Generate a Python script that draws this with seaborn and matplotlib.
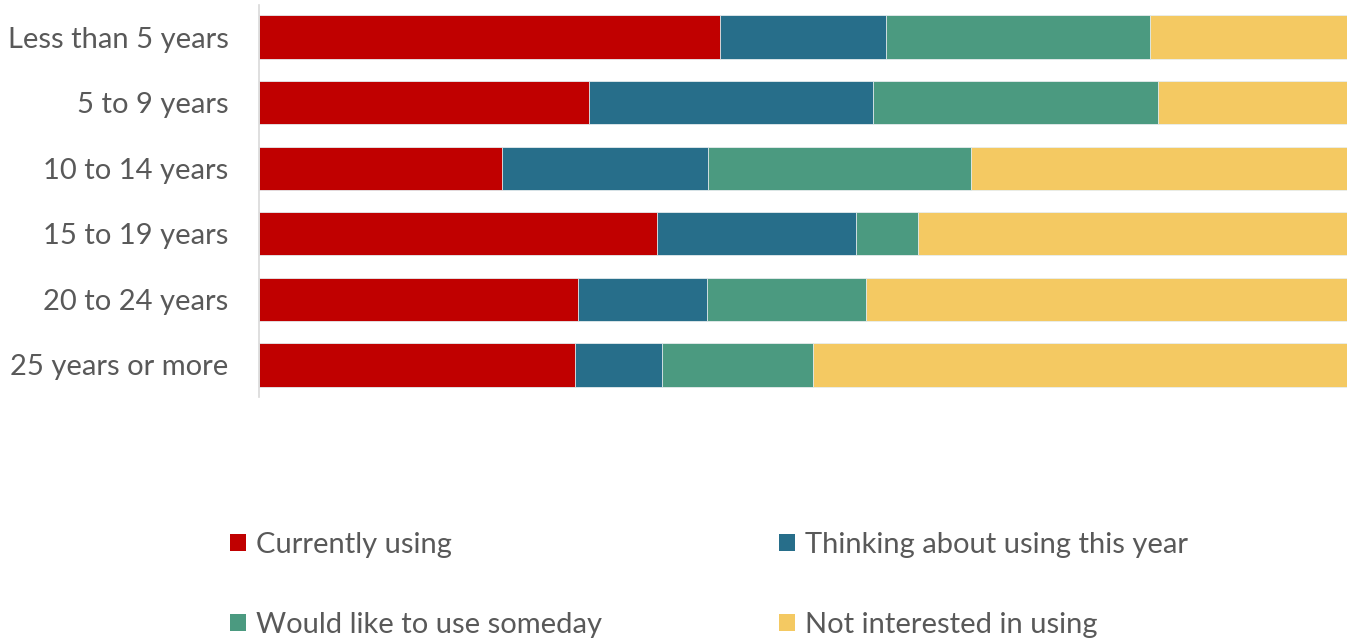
import matplotlib
matplotlib.use("Agg")
import matplotlib.pyplot as plt
import seaborn as sns
import numpy as np
import pandas as pd
from matplotlib.patches import Patch

categories = ["Less than 5 years", "5 to 9 years", "10 to 14 years",
              "15 to 19 years", "20 to 24 years", "25 years or more"]
series_names = ["Currently using", "Thinking about using this year",
                "Would like to use someday", "Not interested in using"]
currently = [42.4, 30.3, 22.3, 36.6, 29.3, 29.0]
thinking = [15.2, 26.1, 19.0, 18.3, 11.9, 8.0]
someday = [24.3, 26.2, 24.1, 5.7, 14.6, 13.9]
not_interested = [18.1, 17.4, 34.6, 39.4, 44.2, 49.1]
colors = ["#C00000", "#276E8A", "#4B9A80", "#F4C962"]

sns.set_theme(style="white")
plt.rcParams["font.family"] = ["Lato", "DejaVu Sans"]
text_color = "#595959"
W, H = 1353, 641

df = pd.DataFrame({"category": categories,
                   series_names[0]: currently,
                   series_names[1]: thinking,
                   series_names[2]: someday,
                   series_names[3]: not_interested})
values = df[series_names].to_numpy()
totals = values.sum(axis=1, keepdims=True)
cum = np.cumsum(values / totals * 100, axis=1)

fig = plt.figure(figsize=(W / 100, H / 100), dpi=100)
ax = fig.add_axes([259 / W, 1 - 397 / H, (1347 - 259) / W, 392 / H])

# Draw the cumulative segments from the longest down so each stays visible
for i in range(len(series_names) - 1, -1, -1):
    sns.barplot(x=cum[:, i], y=categories, orient="h", color=colors[i],
                width=0.66, saturation=1, edgecolor="#e8eef0", linewidth=0.6,
                ax=ax)

ax.set_xlim(0, 100)
ax.set_ylim(5.49, -0.49)
ax.set_xlabel("")
ax.set_ylabel("")
ax.set_xticks([])
for side in ["top", "right", "bottom"]:
    ax.spines[side].set_visible(False)
ax.spines["left"].set_color("#d9d9d9")
ax.spines["left"].set_linewidth(1.2)
ax.tick_params(axis="y", length=0, pad=22, labelsize=21, labelcolor=text_color)

# Legend: two columns, two rows, one entry per legend box
positions = {0: (230, 545), 1: (779, 545), 2: (230, 625), 3: (779, 625)}
for i, name in enumerate(series_names):
    px, py = positions[i]
    fig.legend([Patch(facecolor=colors[i], edgecolor="none")], [name],
               loc="center left", bbox_to_anchor=(px / W, 1 - py / H),
               frameon=False, fontsize=21, labelcolor=text_color,
               borderpad=0, borderaxespad=0,
               handlelength=0.55, handleheight=0.55, handletextpad=0.34)

fig.savefig("out.png", dpi=100, facecolor="white")
